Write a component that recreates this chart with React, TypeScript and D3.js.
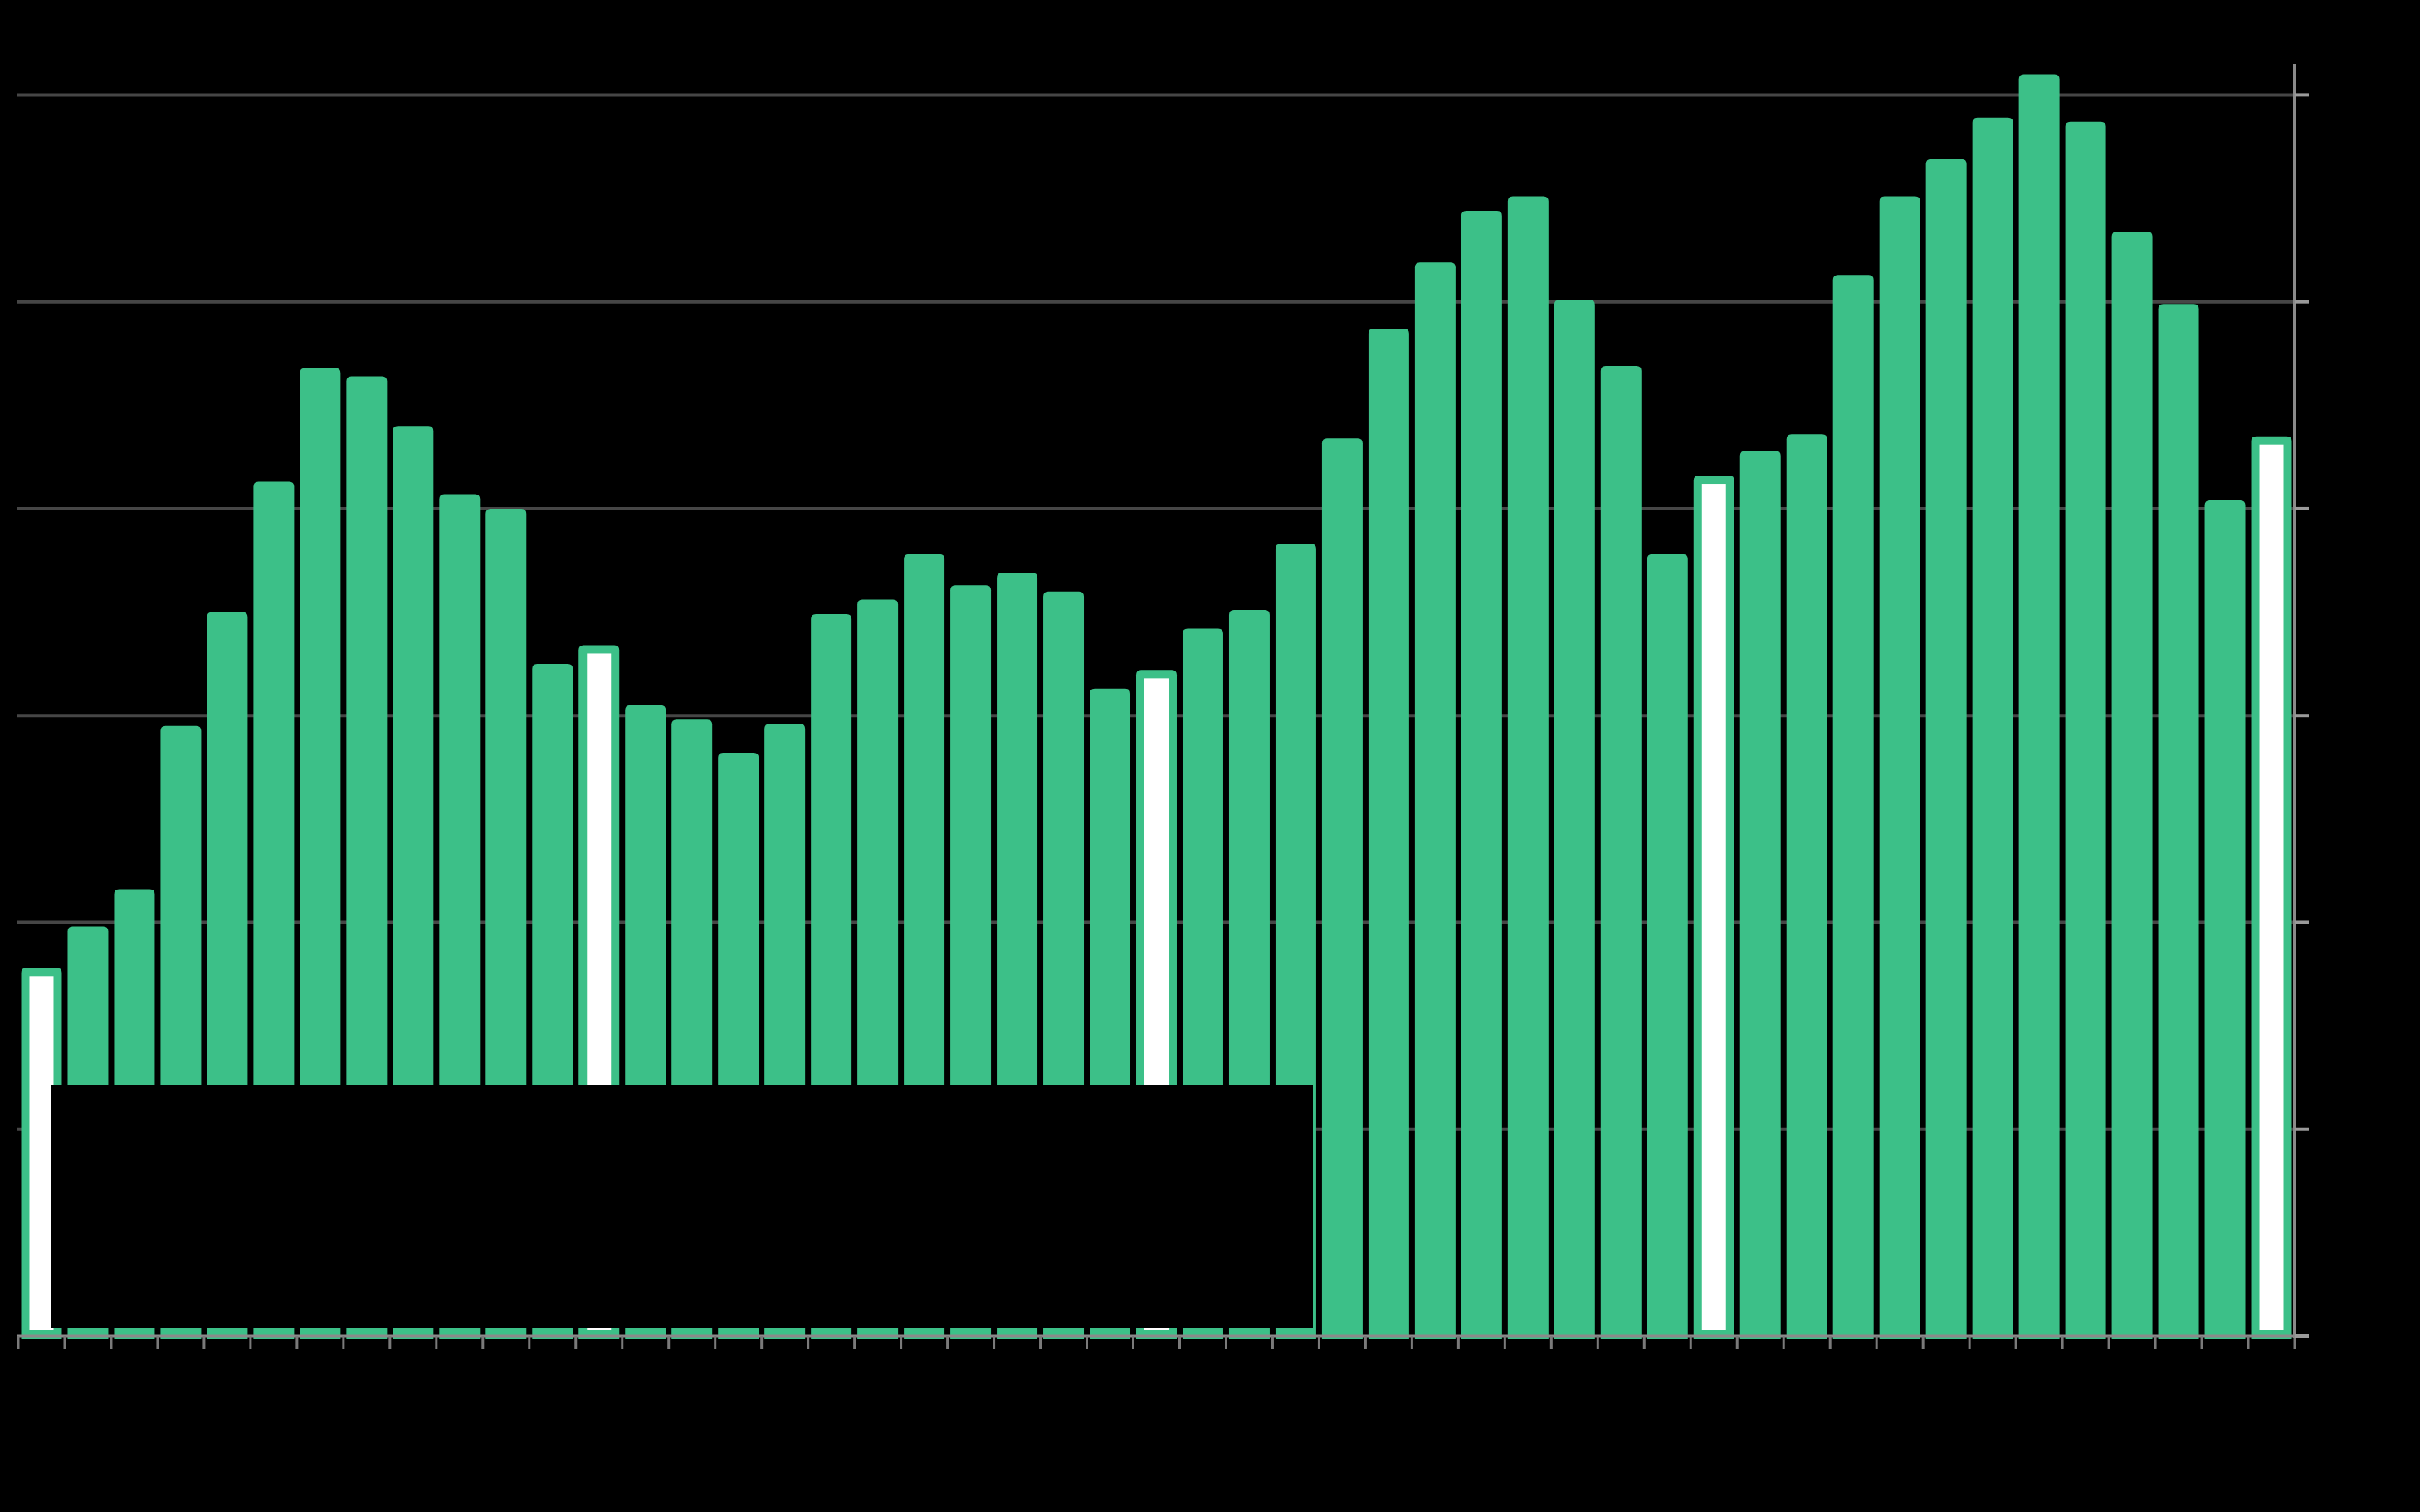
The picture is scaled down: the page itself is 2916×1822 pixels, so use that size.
import React, { useEffect } from "react";
import * as d3 from "d3";

// Monthly categories (49 bars)
const categories: string[] = [
  "Jan Y1", "Feb Y1", "Mar Y1", "Apr Y1", "May Y1", "Jun Y1", "Jul Y1", "Aug Y1", "Sep Y1", "Oct Y1", "Nov Y1", "Dec Y1",
  "Jan Y2", "Feb Y2", "Mar Y2", "Apr Y2", "May Y2", "Jun Y2", "Jul Y2", "Aug Y2", "Sep Y2", "Oct Y2", "Nov Y2", "Dec Y2",
  "Jan Y3", "Feb Y3", "Mar Y3", "Apr Y3", "May Y3", "Jun Y3", "Jul Y3", "Aug Y3", "Sep Y3", "Oct Y3", "Nov Y3", "Dec Y3",
  "Jan Y4", "Feb Y4", "Mar Y4", "Apr Y4", "May Y4", "Jun Y4", "Jul Y4", "Aug Y4", "Sep Y4", "Oct Y4", "Nov Y4", "Dec Y4",
  "Jan Y5",
];

const values: number[] = [
  178, 198, 216, 295, 350, 413, 468, 464, 440, 407, 400, 325,
  334, 305, 298, 282, 296, 349, 356, 378, 363, 369, 360, 313,
  322, 342, 351, 383, 434, 487, 519, 544, 551, 501, 469, 378,
  416, 428, 436, 513, 551, 569, 589, 610, 587, 534, 499, 404,
  435,
];

// highlighted (January) bars
const highlighted: boolean[] = [
  true, false, false, false, false, false, false, false, false, false, false, false,
  true, false, false, false, false, false, false, false, false, false, false, false,
  true, false, false, false, false, false, false, false, false, false, false, false,
  true, false, false, false, false, false, false, false, false, false, false, false,
  true,
];

const yTicks: number[] = [0, 100, 200, 300, 400, 500, 600];

const W = 2916;
const H = 1822;
const GREEN = "#3cc088";

function topRoundedPath(x: number, y: number, w: number, h: number, r: number) {
  const rr = Math.min(r, w / 2, h);
  return `M${x},${y + h}V${y + rr}Q${x},${y} ${x + rr},${y}H${x + w - rr}Q${x + w},${y} ${x + w},${y + rr}V${y + h}Z`;
}

export default function App() {
  useEffect(() => {
    document.body.style.margin = "0";
    document.body.style.background = "#000";
  }, []);

  const x = d3
    .scaleBand<number>()
    .domain(values.map((_, i) => i))
    .range([22, 2765])
    .paddingInner(0.125)
    .paddingOuter(0.0625);
  const y = d3.scaleLinear().domain([0, 615]).range([1610, 77]);
  const step = x.step();
  const bw = x.bandwidth();
  const base = y(0);
  const tickXs = d3.range(values.length + 1).map((i) => x.range()[0] + i * step);
  const axisRight = x.range()[1];

  return (
    <svg width={W} height={H} style={{ display: "block", background: "#000" }}>
      <rect x={0} y={0} width={W} height={H} fill="#000" />
      {/* gridlines */}
      {yTicks.slice(1).map((t) => (
        <line key={t} x1={20} x2={axisRight} y1={y(t)} y2={y(t)} stroke="#464646" strokeWidth={4} />
      ))}
      {/* bars */}
      {values.map((v, i) => {
        const bx = x(i) as number;
        const by = y(v);
        const h = base + 3 - by;
        return (
          <g key={i}>
            <path d={topRoundedPath(bx, by, bw, h, 6)} fill={GREEN} />
            {highlighted[i] && (
              <rect x={bx + 10} y={by + 10} width={bw - 20} height={base - 7 - (by + 10)} fill="#ffffff" />
            )}
          </g>
        );
      })}
      {/* legend box */}
      <rect x={62} y={1307} width={1520} height={293} fill="#000" />
      {/* x axis */}
      <line x1={20} x2={axisRight + 4} y1={base} y2={base} stroke="#8a8a8a" strokeWidth={3} />
      {tickXs.map((tx, i) => (
        <line key={i} x1={tx} x2={tx} y1={base} y2={base + 15} stroke="#7a7a7a" strokeWidth={3} />
      ))}
      {/* right y axis */}
      <line x1={axisRight} x2={axisRight} y1={y(615)} y2={base + 2} stroke="#8a8a8a" strokeWidth={4} />
      {yTicks.map((t) => (
        <line key={t} x1={axisRight} x2={axisRight + 17} y1={y(t)} y2={y(t)} stroke="#9a9a9a" strokeWidth={4} />
      ))}
    </svg>
  );
}
